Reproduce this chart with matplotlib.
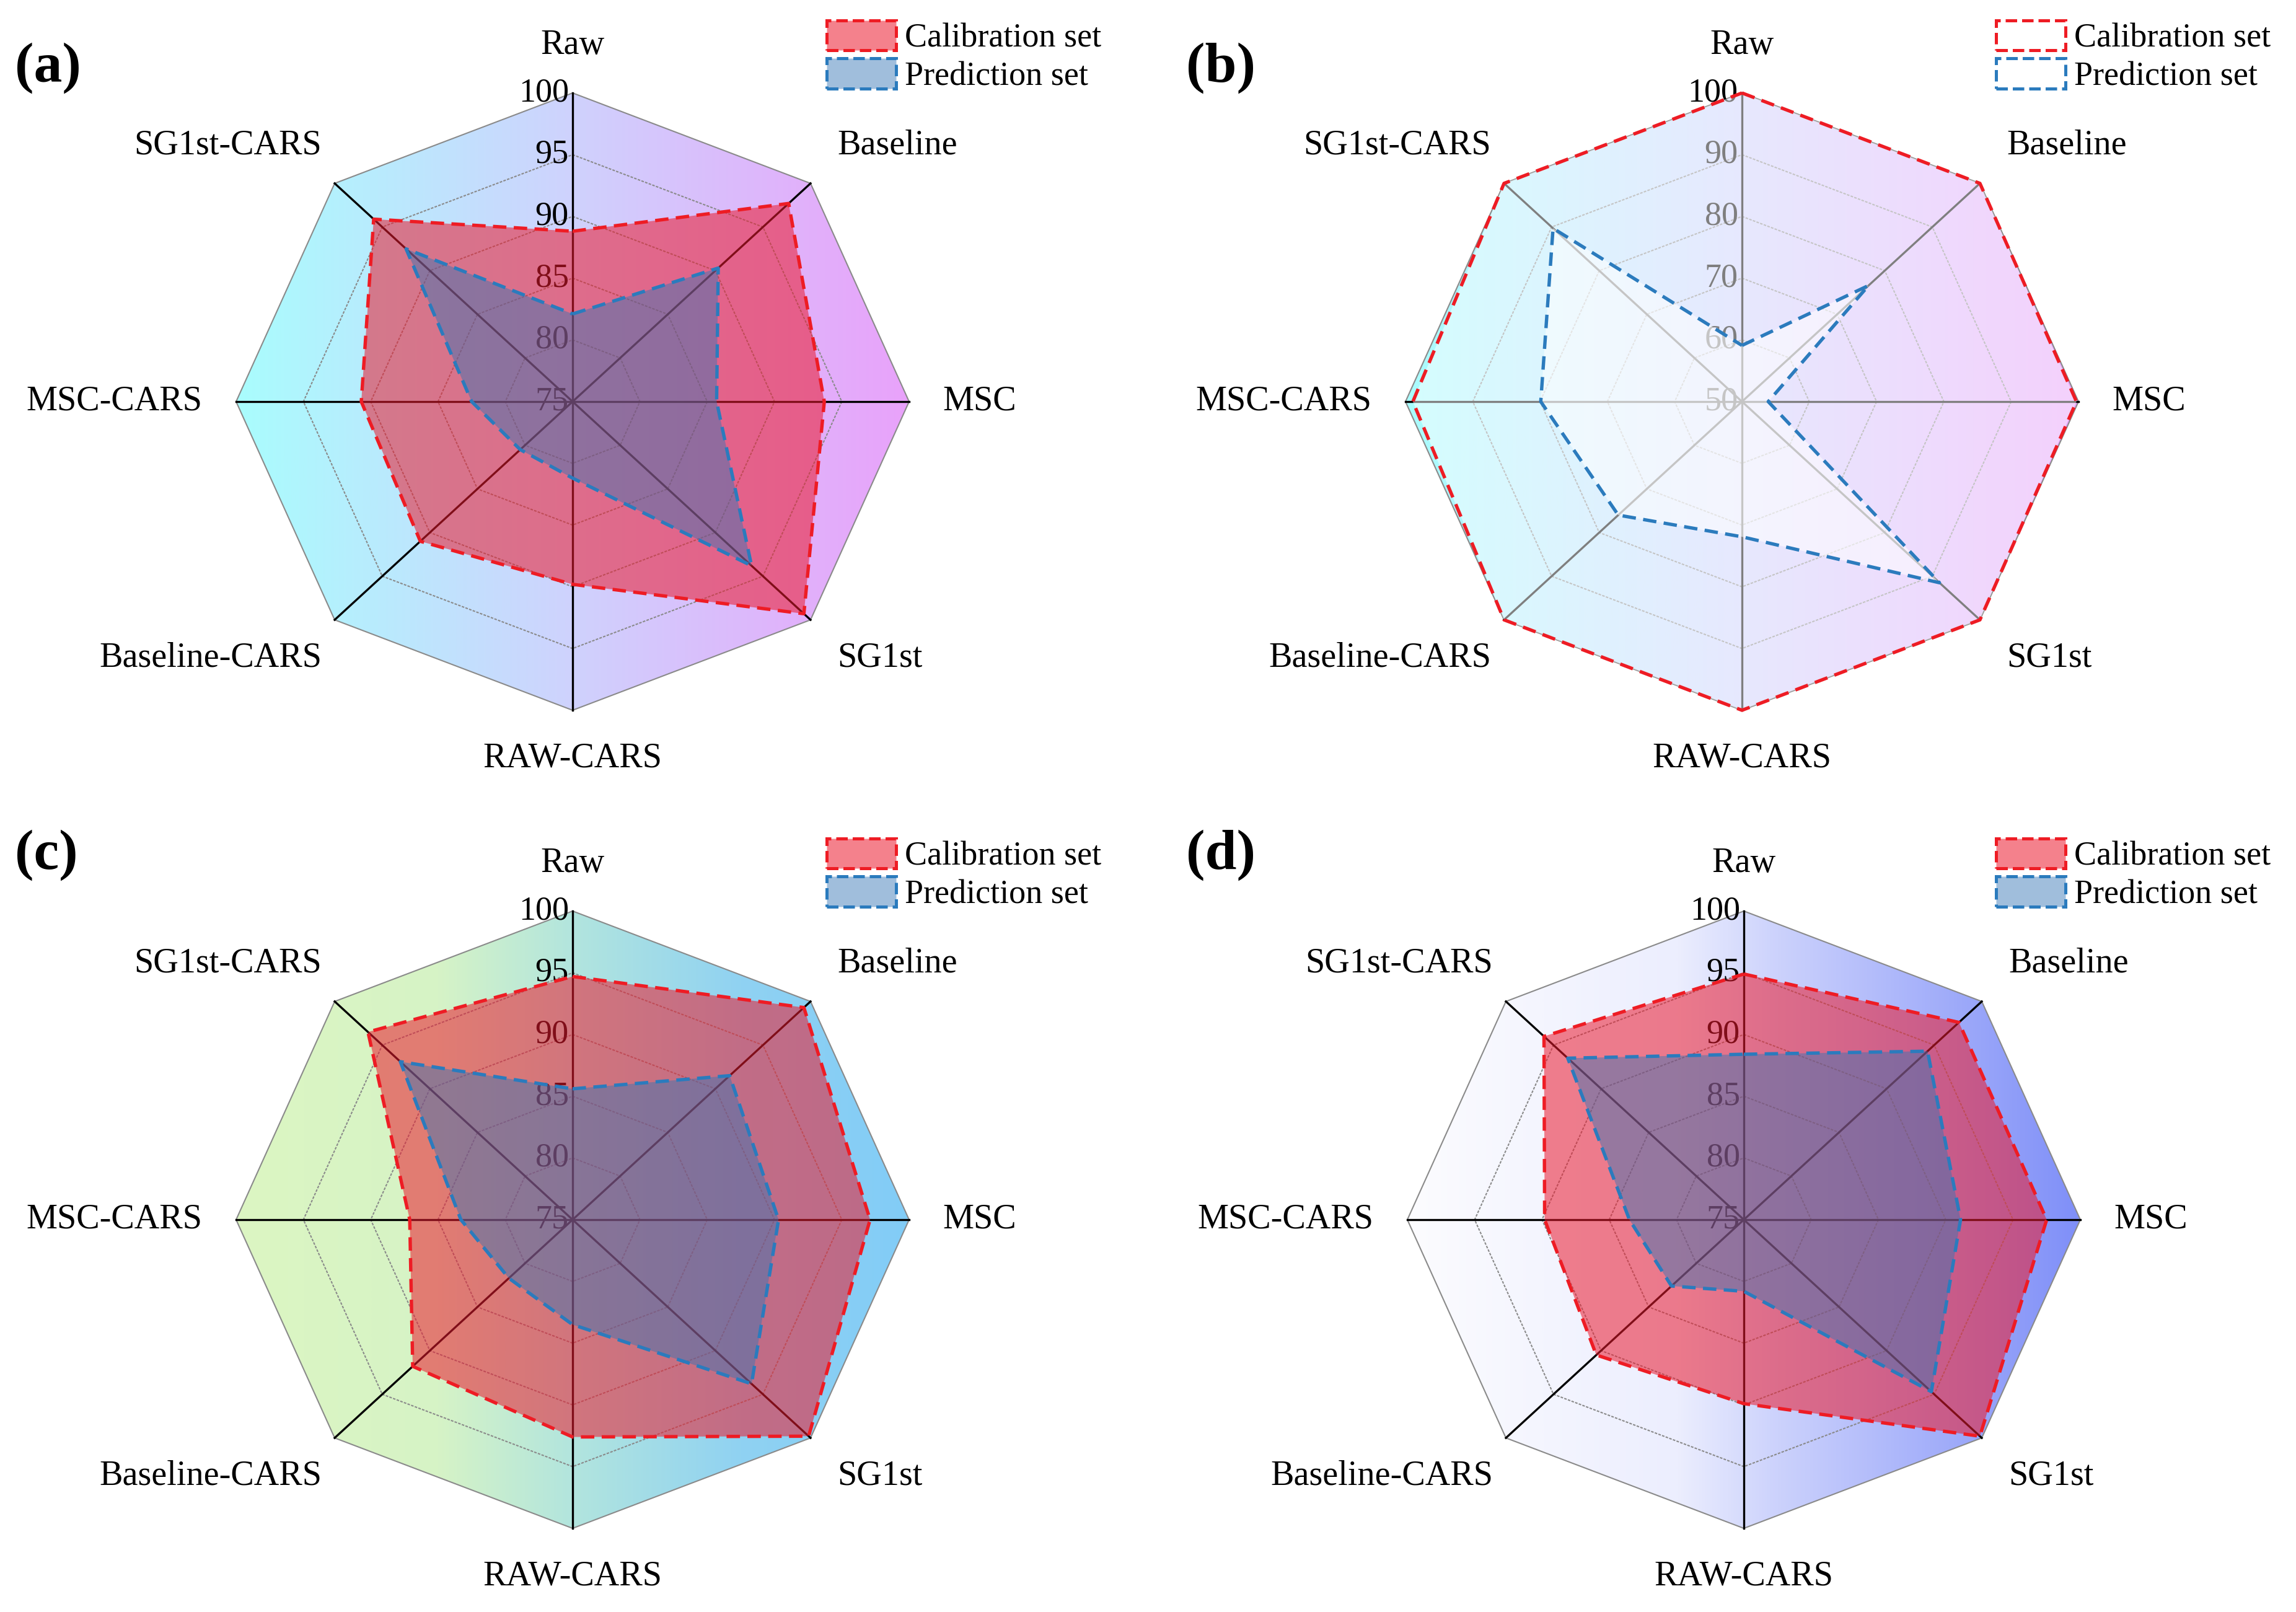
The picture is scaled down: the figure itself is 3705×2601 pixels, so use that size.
import numpy as np
import matplotlib
matplotlib.use("Agg")
import matplotlib.pyplot as plt
from matplotlib.colors import LinearSegmentedColormap, to_rgba
from matplotlib.patches import Polygon, Patch
from matplotlib.transforms import ScaledTranslation

plt.rcParams['font.family'] = ['Liberation Serif', 'DejaVu Serif']

# ---- data (accuracy, %) ----
categories = ['Raw', 'Baseline', 'MSC', 'SG1st',
              'RAW-CARS', 'Baseline-CARS', 'MSC-CARS', 'SG1st-CARS']

cal_a = [88.8, 97.7, 93.7, 99.3, 89.8, 91.0, 90.7, 95.9]
pred_a = [82.1, 90.3, 85.7, 93.8, 81.2, 80.5, 82.5, 92.5]

cal_b = [100, 100, 99.7, 100, 100, 100, 98.9, 100]
pred_b = [59.1, 76.6, 53.9, 91.5, 71.9, 76.0, 79.9, 89.7]

cal_c = [94.7, 99.3, 97.1, 99.8, 92.6, 91.8, 87.1, 96.5]
pred_c = [85.6, 91.5, 90.3, 93.8, 83.5, 81.7, 83.3, 93.1]

cal_d = [94.9, 97.6, 97.5, 99.8, 89.9, 90.5, 89.8, 96.0]
pred_d = [88.4, 94.3, 91.1, 94.7, 80.8, 82.6, 83.5, 93.5]

ticks_75 = [75, 80, 85, 90, 95, 100]
ticks_50 = [50, 60, 70, 80, 90, 100]

series_labels = ['Calibration set', 'Prediction set']

W, H = 3705, 2601
fig = plt.figure(figsize=(W / 300, H / 300), dpi=300)

RX, RY = 543, 498          # octagon radii in pixels (slightly stretched)
RED, BLUE = '#ee1c24', '#2b7bbd'
CAL_FACE = (0.92, 0.10, 0.18)
PRED_FACE = (0.21, 0.46, 0.71)
LAB_FS = 13.5

bg_ab = [(0.0, '#a9fdfd'), (0.5, '#cfd2fd'), (1.0, '#e9a2fa')]
bg_c = [(0.0, '#dcf6c2'), (0.3, '#d6f3c6'), (0.5, '#b2e5de'),
        (0.75, '#90d2f2'), (1.0, '#82ccf7')]
bg_d = [(0.0, '#fcfcff'), (0.4, '#eceefe'), (0.55, '#ccd2fc'), (1.0, '#7f8ff8')]

panels = [
    dict(tag='(a)', c=(924, 648), cal=cal_a, pred=pred_a, ticks=ticks_75, bg=bg_ab,
         white=False, leg=(1334, 33), tagpos=(24, 110)),
    dict(tag='(b)', c=(2811, 648), cal=cal_b, pred=pred_b, ticks=ticks_50, bg=bg_ab,
         white=True, leg=(3221, 33), tagpos=(1914, 110)),
    dict(tag='(c)', c=(924, 1968), cal=cal_c, pred=pred_c, ticks=ticks_75, bg=bg_c,
         white=False, leg=(1334, 1353), tagpos=(24, 1380)),
    dict(tag='(d)', c=(2814, 1968), cal=cal_d, pred=pred_d, ticks=ticks_75, bg=bg_d,
         white=False, leg=(3221, 1353), tagpos=(1914, 1380)),
]

n = len(categories)
theta = np.arange(n) * 2 * np.pi / n
theta_c = np.append(theta, theta[0])

for p in panels:
    cx, cy = p['c']
    rect = [(cx - RX) / W, 1 - (cy + RY) / H, 2 * RX / W, 2 * RY / H]
    rmin, rmax = p['ticks'][0], p['ticks'][-1]
    span = rmax - rmin

    # gradient background, clipped to the outer octagon
    bg = fig.add_axes(rect, zorder=0)
    bg.set_axis_off()
    cmap = LinearSegmentedColormap.from_list('bg', p['bg'])
    im = bg.imshow(np.linspace(0, 1, 512).reshape(1, -1), cmap=cmap,
                   extent=[0, 1, 0, 1], aspect='auto')

    ax = fig.add_axes(rect, projection='polar', zorder=1)
    ax.set_aspect('auto')
    ax.set_theta_zero_location('N')
    ax.set_theta_direction(-1)
    ax.set_ylim(rmin, rmax)
    ax.grid(False)
    ax.set_xticks([])
    ax.set_yticks([])
    ax.spines['polar'].set_visible(False)
    ax.patch.set_visible(False)

    octagon = Polygon(np.column_stack([theta, [rmax] * n]), closed=True,
                      transform=ax.transData)
    im.set_clip_path(octagon)

    # rings and spokes
    for t in p['ticks'][1:]:
        ls = '-' if t == rmax else (0, (2, 1))
        ax.plot(theta_c, [t] * (n + 1), color='#8a8a8a', lw=0.5, ls=ls,
                zorder=1, clip_on=False)
    for th in theta:
        ax.plot([th, th], [rmin, rmax], color='black', lw=0.8, zorder=1.5,
                clip_on=False)

    # radial tick labels along the Raw axis
    off = ScaledTranslation(-1.5 / 72, 0, fig.dpi_scale_trans)
    for t in p['ticks']:
        ax.text(0, t, str(t), ha='right', va='center', fontsize=13,
                color='black', transform=ax.transData + off, zorder=2)

    # series
    cal_cl = np.append(p['cal'], p['cal'][0])
    pred_cl = np.append(p['pred'], p['pred'][0])
    if p['white']:
        cal_fc, pred_fc = to_rgba('white', 0.5), to_rgba('white', 0.55)
        leg_cal, leg_pred = 'none', 'none'
    else:
        cal_fc, pred_fc = to_rgba(CAL_FACE, 0.55), to_rgba(PRED_FACE, 0.47)
        leg_cal, leg_pred = cal_fc, pred_fc
    ax.fill(theta_c, cal_cl, facecolor=cal_fc, lw=0, zorder=3)
    ax.fill(theta_c, pred_cl, facecolor=pred_fc, lw=0, zorder=4)
    ax.plot(theta_c, cal_cl, color=RED, lw=1.3, dashes=(4, 2.2), zorder=5,
            clip_on=False)
    ax.plot(theta_c, pred_cl, color=BLUE, lw=1.3, dashes=(4, 2.2), zorder=6,
            clip_on=False)

    # category labels
    for th, name in zip(theta, categories):
        s, c = np.sin(th), np.cos(th)
        if abs(s) < 0.1:
            ax.text(th, rmin + 1.155 * span, name, ha='center', va='center',
                    fontsize=LAB_FS)
        elif abs(c) < 0.1:
            ax.text(th, rmin + 1.1 * span, name, va='center', fontsize=LAB_FS,
                    ha='left' if s > 0 else 'right')
        else:
            # diagonal labels sit a little above/below the spoke end
            nx = 0.787 if s > 0 else -0.745
            ny = 0.83 * np.sign(c)
            ang = np.arctan2(nx, ny)
            ax.text(ang, rmin + np.hypot(nx, ny) * span, name, va='center',
                    fontsize=LAB_FS, ha='left' if s > 0 else 'right')

    handles = [Patch(facecolor=leg_cal, edgecolor=RED, linestyle='--', lw=1.2),
               Patch(facecolor=leg_pred, edgecolor=BLUE, linestyle='--', lw=1.2)]
    lx, ly = p['leg']
    fig.legend(handles, series_labels, loc='upper left',
               bbox_to_anchor=(lx / W, 1 - ly / H), bbox_transform=fig.transFigure,
               frameon=False, fontsize=13, borderpad=0, borderaxespad=0,
               handlelength=2.07, handleheight=1.0, handletextpad=0.25,
               labelspacing=0.12)

    tx, ty = p['tagpos']
    fig.text(tx / W, 1 - ty / H, p['tag'], fontsize=22, fontweight='bold',
             ha='left', va='center')

fig.savefig('out.png', dpi=300)
